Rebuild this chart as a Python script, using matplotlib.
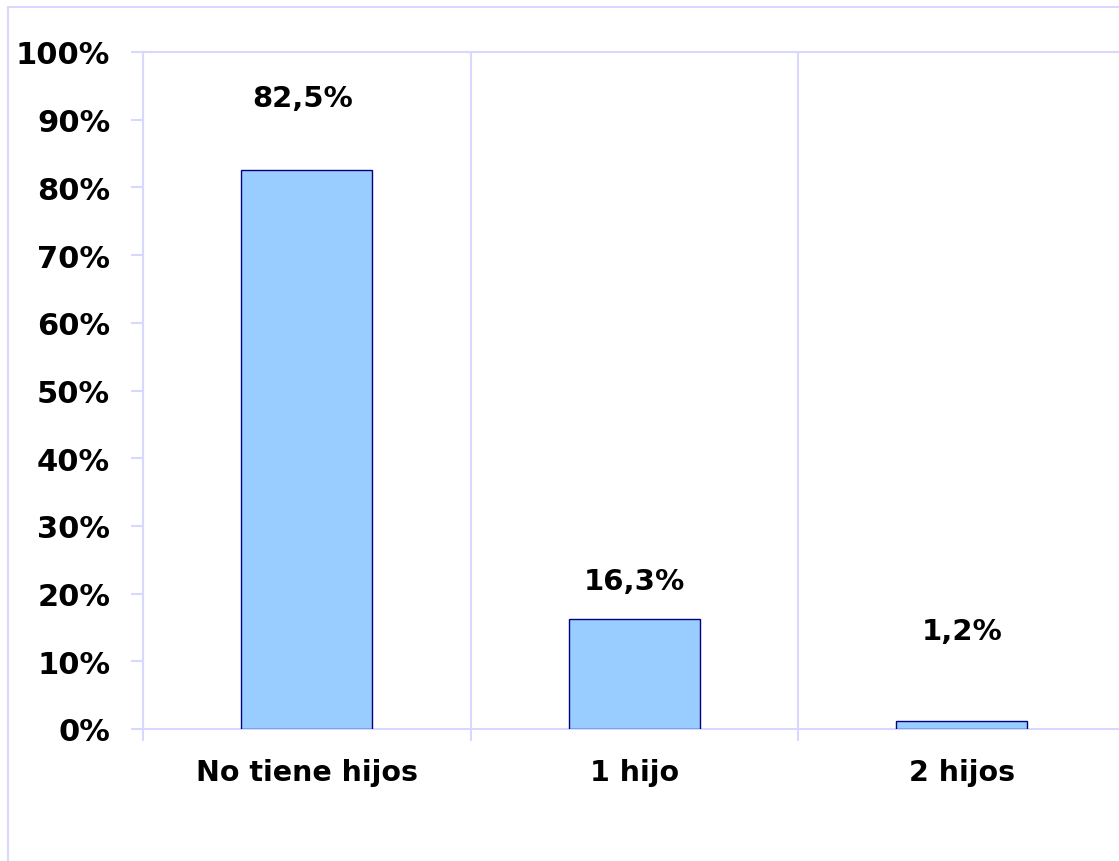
import matplotlib
matplotlib.use("Agg")
import matplotlib.pyplot as plt
from matplotlib.patches import Rectangle
from matplotlib.ticker import MultipleLocator, FuncFormatter, FixedLocator

categories = ["No tiene hijos", "1 hijo", "2 hijos"]
values = [82.5, 16.3, 1.2]
value_labels = ["82,5%", "16,3%", "1,2%"]
label_offsets_pt = [52, 27, 65]  # vertical offset of value labels above bar tops

W, H = 1119, 862
fig = plt.figure(figsize=(W / 100, H / 100), dpi=100)
fig.patch.set_facecolor("white")

grid_c = "#D8D8FF"
# outer chart border
fig.add_artist(Rectangle((8 / W, -0.1), 1.2, (H - 8) / H + 0.1, transform=fig.transFigure,
                         fill=False, edgecolor=grid_c, linewidth=1.5))

left, right = 143 / W, 1125.5 / W
bottom, top = (H - 730) / H, (H - 53) / H
ax = fig.add_axes([left, bottom, right - left, top - bottom])

x = list(range(len(categories)))
ax.bar(x, values, width=0.40, color="#99CCFF", edgecolor="#000080", linewidth=1.0, zorder=3)

ax.set_xlim(-0.5, len(categories) - 0.5)
ax.set_ylim(0, 100)
ax.yaxis.set_major_locator(MultipleLocator(10))
ax.yaxis.set_major_formatter(FuncFormatter(lambda v, p: f"{int(round(v))}%"))

# category separators
ax.xaxis.set_major_locator(FixedLocator([i + 0.5 for i in range(-1, len(categories))]))
ax.xaxis.set_minor_locator(FixedLocator(x))
ax.set_xticklabels([])
ax.set_xticklabels(categories, minor=True)
ax.tick_params(axis="x", which="major", length=8.6, width=1.5, color=grid_c, direction="out")
ax.tick_params(axis="x", which="minor", length=0, pad=21)
ax.tick_params(axis="y", length=8.6, width=1.5, color=grid_c, pad=15)
ax.grid(axis="x", which="major", color=grid_c, linewidth=1.5, zorder=0)

for lbl in ax.get_xticklabels(minor=True):
    lbl.set_fontsize(20.5)
    lbl.set_fontweight("bold")
    lbl.set_color("black")
for lbl in ax.get_yticklabels():
    lbl.set_fontsize(22)
    lbl.set_fontweight("bold")
    lbl.set_color("black")

for s in ax.spines.values():
    s.set_color(grid_c)
    s.set_linewidth(1.5)
ax.spines["right"].set_visible(False)

for xi, v, t, off in zip(x, values, value_labels, label_offsets_pt):
    ax.annotate(t, (xi, v), xytext=(-3 if xi == 0 else 0, off), textcoords="offset points",
                ha="center", va="center", fontsize=21, fontweight="bold", color="black")

fig.savefig("out.png", dpi=100)
